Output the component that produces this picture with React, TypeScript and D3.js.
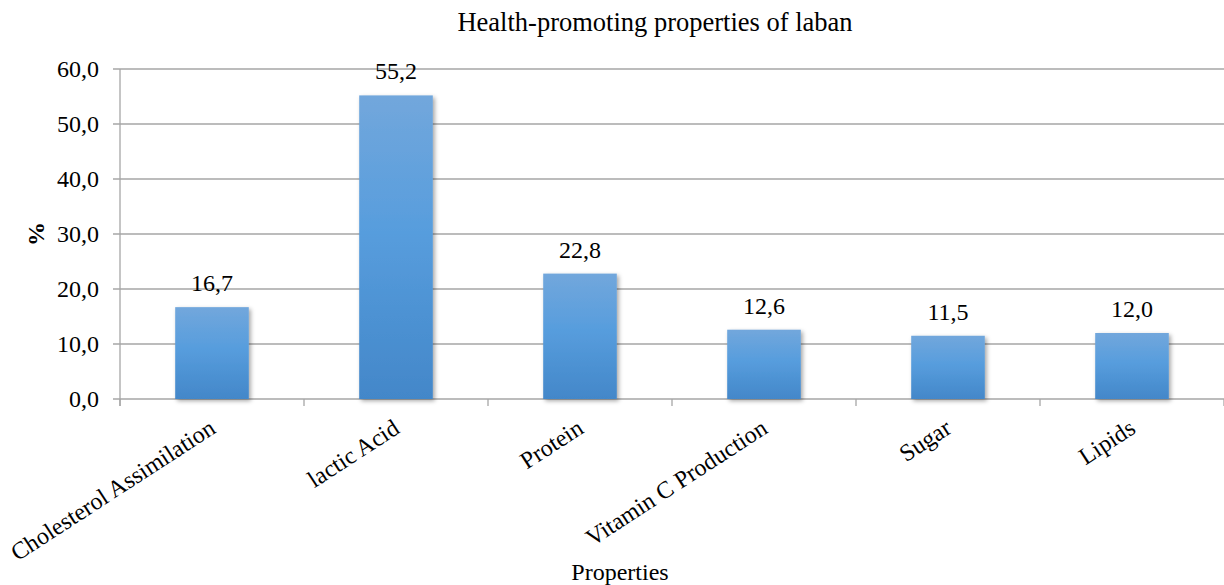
import React from "react";
import * as d3 from "d3";

const categories = ["Cholesterol Assimilation", "lactic Acid", "Protein", "Vitamin C Production", "Sugar", "Lipids"];
const values = [16.7, 55.2, 22.8, 12.6, 11.5, 12.0];
const yTicks = [0, 10, 20, 30, 40, 50, 60];
const title = "Health-promoting properties of laban";
const xTitle = "Properties";
const yTitle = "%";

const W = 1224, H = 585;
const left = 120, right = 1224, top = 69, bottom = 399;
const FONT = "'Liberation Serif', 'Times New Roman', serif";
const fmt = (v: number) => v.toFixed(1).replace(".", ",");

function Txt({ x, y, rot = 0, size = 24, anchor = "middle", weight = "normal", children }: any) {
  return (
    <text transform={`translate(${x},${y}) rotate(${rot})`} textAnchor={anchor} fontFamily={FONT} fontSize={size} fontWeight={weight} fill="#000">{children}</text>
  );
}

export default function App() {
  const x = d3.scaleBand<string>().domain(categories).range([left, right]).paddingInner(0.6).paddingOuter(0.3);
  const y = d3.scaleLinear().domain([0, 60]).range([bottom, top]);
  const step = x.step();
  const grid = "#a6a6a6";
  return (
    <svg width={W} height={H} style={{ position: "absolute", left: 0, top: 0, background: "#fff" }}>
      <defs>
        <linearGradient id="barGrad" x1="0" y1="0" x2="0" y2="1">
          <stop offset="0%" stopColor="#72a7dc" />
          <stop offset="45%" stopColor="#579ddd" />
          <stop offset="100%" stopColor="#4387c9" />
        </linearGradient>
        <filter id="shadow" x="-20%" y="-20%" width="140%" height="140%">
          <feDropShadow dx="2" dy="2" stdDeviation="2" floodColor="#000" floodOpacity="0.35" />
        </filter>
      </defs>
      <rect width={W} height={H} fill="#fff" />
      {yTicks.map((t) => (
        <g key={t}>
          <line x1={left - 7} x2={right} y1={y(t)} y2={y(t)} stroke={grid} strokeWidth={1.3} />
          <Txt x={99} y={y(t) + 8} anchor="end">{fmt(t)}</Txt>
        </g>
      ))}
      <line x1={left} x2={left} y1={top} y2={bottom + 7} stroke={grid} strokeWidth={1.3} />
      {d3.range(categories.length + 1).map((i) => (
        <line key={i} x1={left + i * step} x2={left + i * step} y1={bottom} y2={bottom + 7} stroke={grid} strokeWidth={1.3} />
      ))}
      {categories.map((c, i) => (
        <g key={c}>
          <rect x={x(c)} y={y(values[i])} width={x.bandwidth()} height={bottom - y(values[i])} fill="url(#barGrad)" filter="url(#shadow)" />
          <Txt x={(x(c) as number) + x.bandwidth() / 2} y={y(values[i]) - 16}>{fmt(values[i])}</Txt>
          <Txt x={(x(c) as number) + x.bandwidth() / 2 + 5} y={432} rot={-33} anchor="end">{c}</Txt>
        </g>
      ))}
      <Txt x={655} y={31} size={26.5}>{title}</Txt>
      <Txt x={620} y={580}>{xTitle}</Txt>
      <Txt x={44} y={234} rot={-90} weight="bold">{yTitle}</Txt>
    </svg>
  );
}
